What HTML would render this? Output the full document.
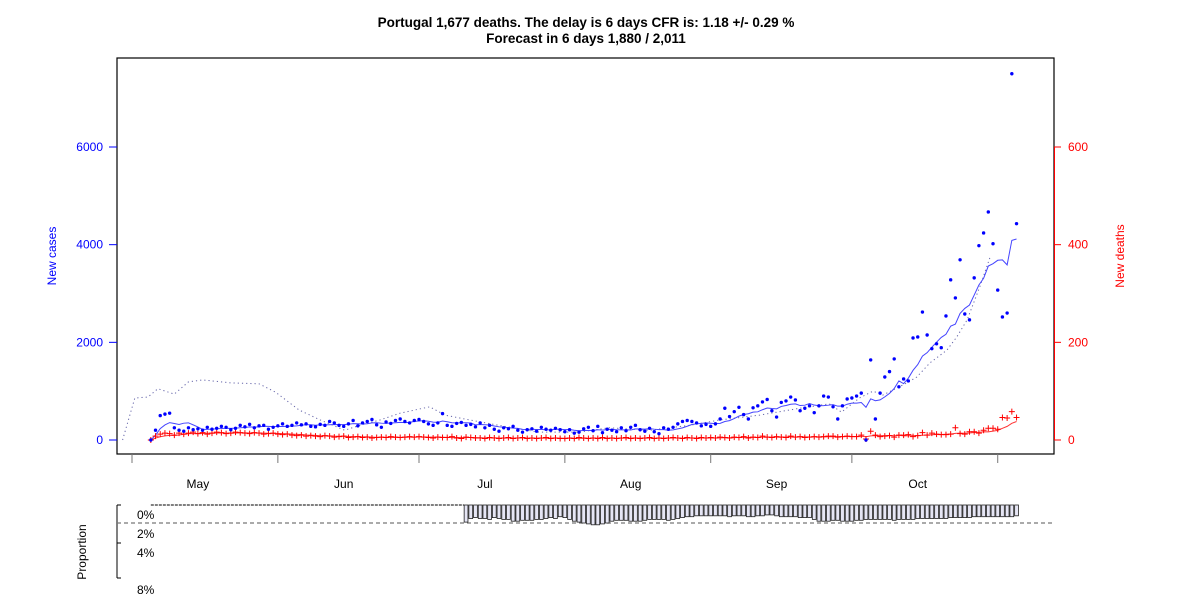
<!DOCTYPE html>
<html><head><meta charset="utf-8"><style>
body{margin:0;background:#fff;}
svg{display:block;font-family:"Liberation Sans",Arial,sans-serif;}
</style></head><body>
<svg id="chart" width="1200" height="600" viewBox="0 0 1200 600" xmlns="http://www.w3.org/2000/svg">
<text x="586" y="27" font-size="13.5" font-weight="bold" text-anchor="middle">Portugal 1,677 deaths. The delay is 6 days CFR is: 1.18 +/- 0.29 %</text>
<text x="586" y="43" font-size="13.5" font-weight="bold" text-anchor="middle">Forecast in 6 days 1,880 / 2,011</text>
<rect x="117" y="58" width="937" height="396" fill="none" stroke="#000" stroke-width="1.2"/>
<text transform="translate(56,256) rotate(-90)" font-size="12" fill="#0000ff" text-anchor="middle">New cases</text>
<text transform="translate(1124,256) rotate(-90)" font-size="12" fill="#ff0000" text-anchor="middle">New deaths</text>
<text transform="translate(86,552) rotate(-90)" font-size="12" fill="#000" text-anchor="middle">Proportion</text>
<g id="g-left"></g>
<g id="g-right"></g>
<g id="g-x"></g>
<g id="g-series"></g>
<g id="g-prop"></g>
</svg>
<script>
const casesStartDay = 4;
const cases = [0,200,500,530,550,250,200,
180,250,210,230,200,260,220,240,280,260,210,240,300,270,320,250,290,300,220,260,
290,330,280,300,350,310,330,280,270,320,300,380,350,300,280,330,400,290,350,380,420,310,260,370,340,400,430,380,350,400,
420,380,330,300,350,540,300,280,340,360,300,320,270,350,250,300,220,180,250,230,280,200,160,210,230,180,260,220,200,240,210,
170,210,140,160,230,260,190,280,150,220,200,170,250,190,260,300,210,180,240,170,130,250,220,260,330,380,400,380,350,290,320,
280,330,430,650,480,580,670,520,430,660,700,780,830,600,470,770,800,880,820,600,650,700,560,
700,900,880,680,430,700,840,860,900,960,0,1640,430,960,1290,1400,1660,1090,1250,1210,2090,2110,2620,2150,1870,1970,1890,2540,3280,2910,3690,2580,2460,3320,3980,4240,4670,4020,3070,2520,2600,7500,4430];
const deaths = [0,8,12,14,13,10,14,
12,14,16,13,15,12,14,16,15,13,14,16,15,14,13,15,14,12,13,14,
12,11,12,10,9,10,8,9,8,7,9,8,6,7,8,5,6,7,5,6,4,5,6,5,7,6,5,6,7,6,
7,6,5,4,6,5,5,7,4,3,6,5,4,4,3,5,4,3,4,5,3,4,5,3,4,3,4,5,3,4,3,
3,4,3,5,4,3,4,3,5,3,4,3,4,5,3,4,3,4,5,3,4,3,4,5,4,3,5,4,3,5,4,
5,4,6,5,4,6,5,7,4,6,5,8,6,5,7,6,5,8,6,7,5,6,7,
6,7,8,8,6,7,8,7,7,10,2,18,10,7,8,9,6,10,10,11,7,9,15,10,14,12,11,11,12,25,13,12,17,17,14,20,24,24,22,46,45,58,46];
const impliedDays = [-2,0.6,3.4,5.5,9,12,15,21,27,30.5,35.5,40,45.2,48.4,52.7,57,63.3,66.5,71.8,78,86.5,95,101.3,110,118.5,124.9,133.4,141.9,148.2,150.8,154.6,157.5,159.6,164.7,166.8,169.6,173.2,175.3,177.5,180.2,182.4];
const impliedCases = [0,860,880,1050,940,1190,1230,1170,1150,980,615,410,200,300,410,550,680,510,410,300,160,160,250,200,300,410,510,650,740,570,860,1000,920,1170,1290,1580,1840,2110,2460,3140,3750];
const propStartDay = 71;
const proportion = [1.9,1.5,1.4,1.5,1.5,1.6,1.4,1.5,1.6,1.6,
1.8,1.8,1.7,1.7,1.7,1.6,1.6,1.5,1.4,1.5,
1.3,1.4,1.6,1.8,1.9,2.0,2.1,2.2,2.2,2.1,
2.0,1.8,1.7,1.7,1.7,1.8,1.8,1.8,1.7,1.6,
1.6,1.6,1.6,1.7,1.6,1.5,1.4,1.3,1.3,1.2,
1.2,1.2,1.2,1.2,1.2,1.2,1.3,1.2,1.2,1.2,
1.3,1.3,1.2,1.2,1.1,1.1,1.2,1.3,1.3,1.3,
1.3,1.4,1.4,1.4,1.6,1.8,1.8,1.8,1.7,1.7,
1.8,1.8,1.8,1.7,1.7,1.6,1.6,1.6,1.6,1.6,
1.6,1.7,1.6,1.6,1.6,1.6,1.5,1.5,1.5,1.5,
1.5,1.5,1.5,1.4,1.4,1.4,1.4,1.4,1.3,1.3,
1.3,1.3,1.3,1.3,1.3,1.3,1.3,1.2];
const monthLabels = ["May","Jun","Jul","Aug","Sep","Oct"];
const monthStartDays = [0,31,61,92,123,153,184];
const leftTicks = [0,2000,4000,6000];
const rightTicks = [0,200,400,600];
const propTickLabels = ["0%","2%","4%","8%"];

const NS="http://www.w3.org/2000/svg";
function el(tag, attrs, parent, txt){const e=document.createElementNS(NS,tag);for(const k in attrs)e.setAttribute(k,attrs[k]);if(txt!==undefined)e.textContent=txt;parent.appendChild(e);return e;}
const X = d => 132 + d*4.705;
const YL = v => 440 - v*293/6000;
const YR = v => 440 - v*293/600;
const YP = p => 505 + p*9;

const gl=document.getElementById('g-left'), gr=document.getElementById('g-right'), gx=document.getElementById('g-x'), gs=document.getElementById('g-series'), gp=document.getElementById('g-prop');
leftTicks.forEach(v=>{
  const t=el('line',{x1:109,x2:117,y1:YL(v),y2:YL(v),stroke:'#0000ff'},gl);
  
  
  const l=el('text',{x:103,y:YL(v)+4,'font-size':12,fill:'#0000ff','text-anchor':'end'},gl,String(v));
  
  
});
el('line',{x1:1054.5,x2:1054.5,y1:YR(600),y2:YR(0),stroke:'#ff0000'},gr);
rightTicks.forEach(v=>{
  const t=el('line',{x1:1054,x2:1061,y1:YR(v),y2:YR(v),stroke:'#ff0000'},gr);
  
  
  const l=el('text',{x:1068,y:YR(v)+4,'font-size':12,fill:'#ff0000'},gr,String(v));
  
  
});
monthStartDays.forEach(d=>{
  const t=el('line',{x1:X(d),x2:X(d),y1:454,y2:463,stroke:'#777'},gx);
  
  
});
monthLabels.forEach((m,i)=>{
  const l=el('text',{x:X(monthStartDays[i]+14),y:488,'font-size':12,'text-anchor':'middle'},gx,m);
  
  
});
function rolling(arr){return arr.map((v,i)=>{const s=arr.slice(Math.max(0,i-6),i+1);return s.reduce((a,b)=>a+b,0)/s.length;});}
const ip=impliedDays.map((d,i)=>X(d)+','+YL(impliedCases[i])).join(' ');
const dl=el('polyline',{points:ip,fill:'none',stroke:'#6666aa','stroke-width':1,'stroke-dasharray':'1.2,3'},gs);


const cs=rolling(cases);
const sl=el('polyline',{points:cs.map((v,i)=>X(casesStartDay+i)+','+YL(v)).join(' '),fill:'none',stroke:'#4444ff','stroke-width':1},gs);


const ds=rolling(deaths);
const rl=el('polyline',{points:ds.map((v,i)=>X(casesStartDay+i)+','+YR(v)).join(' '),fill:'none',stroke:'#ff3333','stroke-width':1},gs);


deaths.forEach((v,i)=>{
  const x=X(casesStartDay+i), y=YR(v);
  const p=el('path',{d:`M${x-3},${y}H${x+3}M${x},${y-3}V${y+3}`,stroke:'#ff0000','stroke-width':1},gs);
  
  
});
cases.forEach((v,i)=>{
  const c=el('circle',{cx:X(casesStartDay+i),cy:YL(v),r:1.7,fill:'#0000ff'},gs);
  
  
});
el('path',{d:'M117,505H121M117,505V578M117,523H121M117,543H121M117,578H121',stroke:'#000',fill:'none'},gp);
const tys=[515,534,553,590];
propTickLabels.forEach((t,i)=>{
  const l=el('text',{x:137,y:tys[i]+4,'font-size':12},gp,t);
  
  
});
el('line',{x1:117,x2:1054,y1:523,y2:523,stroke:'#777','stroke-dasharray':'4,3','stroke-width':1.2},gp);
el('line',{x1:X(casesStartDay),x2:X(propStartDay)-2,y1:505,y2:505,stroke:'#000','stroke-dasharray':'3,1','stroke-width':1},gp);
proportion.forEach((p,i)=>{
  const x=X(propStartDay+i);
  const b=el('rect',{x:x-1.9,y:505,width:3.8,height:YP(p)-505,fill:'#e6e6f5',stroke:'#222','stroke-width':0.8},gp);
  
  
});
</script>
</body></html>
